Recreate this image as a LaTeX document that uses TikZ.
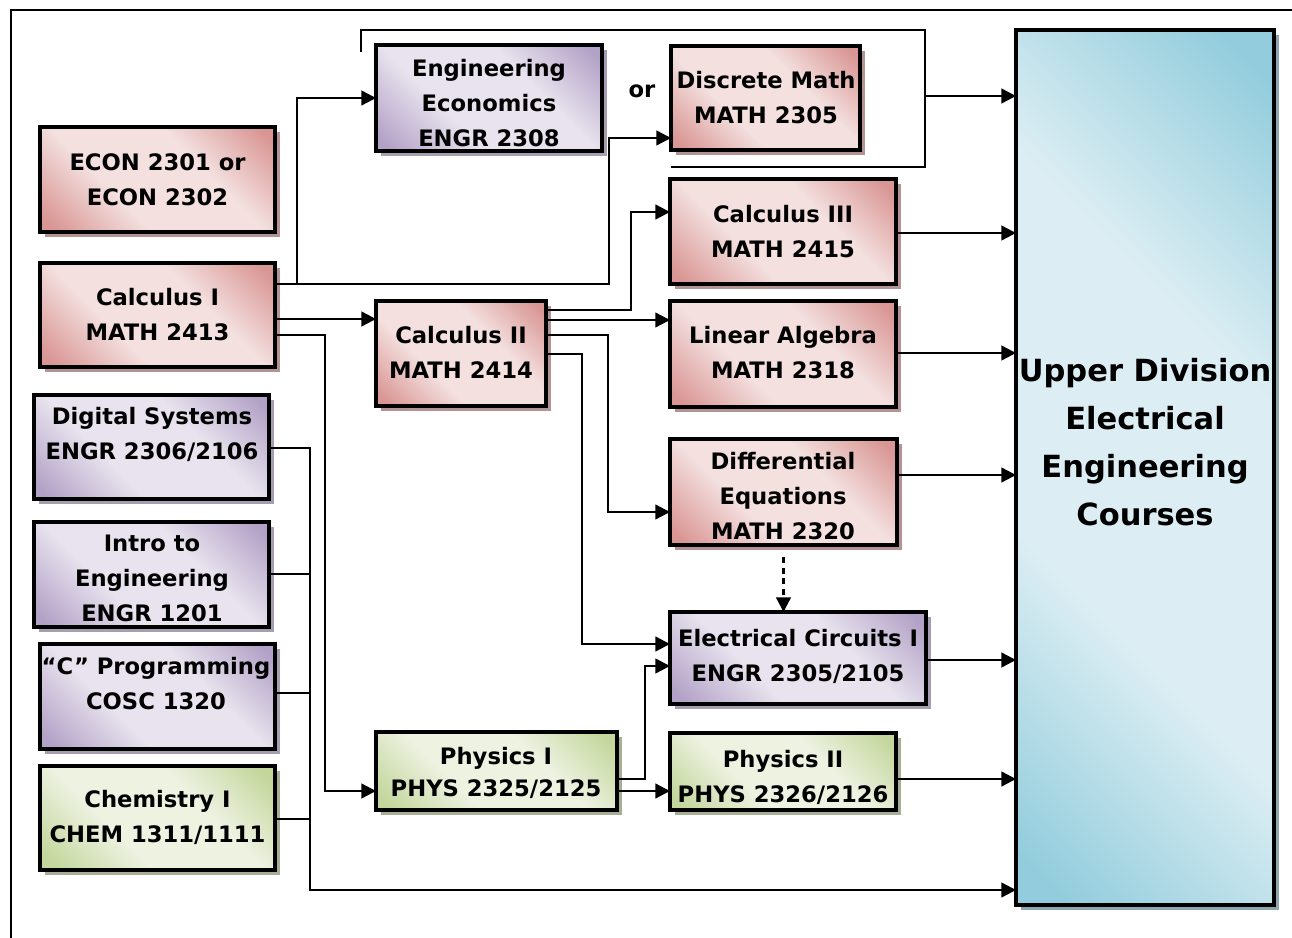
\documentclass[tikz,border=0pt]{standalone}
\usepackage{fontspec}
\setmainfont{DejaVu Sans}
\usetikzlibrary{arrows.meta,shadows,fit}
\definecolor{rl}{HTML}{F3E0DF}
\definecolor{rd}{HTML}{D99694}
\definecolor{rs}{HTML}{B39393}
\definecolor{pl}{HTML}{E8E3EE}
\definecolor{pd}{HTML}{B3A2C7}
\definecolor{ps}{HTML}{A79EB2}
\definecolor{gl}{HTML}{EDF2E1}
\definecolor{gd}{HTML}{C3D69B}
\definecolor{gs}{HTML}{A6AE96}
\definecolor{bl}{HTML}{DCEEF3}
\definecolor{bd}{HTML}{93CDDD}
\definecolor{bs}{HTML}{8FA6AE}
\pgfdeclarehorizontalshading{redsh}{100bp}{color(0bp)=(rd); color(18bp)=(rd); color(38bp)=(rl); color(62bp)=(rl); color(82bp)=(rd); color(100bp)=(rd)}
\pgfdeclarehorizontalshading{purpsh}{100bp}{color(0bp)=(pd); color(18bp)=(pd); color(38bp)=(pl); color(62bp)=(pl); color(82bp)=(pd); color(100bp)=(pd)}
\pgfdeclarehorizontalshading{greensh}{100bp}{color(0bp)=(gd); color(18bp)=(gd); color(38bp)=(gl); color(62bp)=(gl); color(82bp)=(gd); color(100bp)=(gd)}
\pgfdeclarehorizontalshading{bluesh}{100bp}{color(0bp)=(bd); color(18bp)=(bd); color(38bp)=(bl); color(62bp)=(bl); color(82bp)=(bd); color(100bp)=(bd)}
\tikzset{
  bx/.style={draw=black, line width=2.3pt, inner sep=0pt, outer sep=0pt},
  rbox/.style={bx, shade, shading=redsh, shading angle=45,
    drop shadow={shadow xshift=3.8pt, shadow yshift=-3.8pt, fill=rs, opacity=1}},
  pbox/.style={bx, shade, shading=purpsh, shading angle=45,
    drop shadow={shadow xshift=3.8pt, shadow yshift=-3.8pt, fill=ps, opacity=1}},
  gbox/.style={bx, shade, shading=greensh, shading angle=45,
    drop shadow={shadow xshift=3.8pt, shadow yshift=-3.8pt, fill=gs, opacity=1}},
  ubox/.style={bx, shade, shading=bluesh, shading angle=45,
    drop shadow={shadow xshift=3.8pt, shadow yshift=-3.8pt, fill=bs, opacity=1}},
  txt/.style={font=\fontsize{17}{26.25}\selectfont\bfseries, align=center, inner sep=0pt},
  conn/.style={line width=1.8pt},
  arr/.style={conn, -{Triangle[length=11pt,width=11pt]}},
}
\begin{document}
\begin{tikzpicture}[x=0.75pt, y=-0.75pt]
\useasboundingbox (0,0) rectangle (1292,938);
\fill[white] (0,0) rectangle (1292,938);
% frame
\draw[line width=1.8pt] (11,945) -- (11,10) -- (1295,10);

% boxes
\node[rbox, fit={(40,127) (275,232)}] (econ) {};
\node[txt] (econt) at (157.5,179.5) {ECON 2301 or\\ECON 2302};
\node[rbox, fit={(40,263) (275,367)}] (calc1) {};
\node[txt] (calc1t) at (157.5,315) {Calculus I\\MATH 2413};
\node[pbox, fit={(34,395) (269,499)}] (digsys) {};
\node[txt] (digsyst) at (152,434) {Digital Systems\\ENGR 2306/2106};
\node[pbox, fit={(34,522) (269,627)}] (intro) {};
\node[txt] (introt) at (152,578) {Intro to\\Engineering\\ENGR 1201};
\node[pbox, fit={(40,644) (275,749)}] (cprog) {};
\node[txt] (cprogt) at (156,683.5) {“C” Programming\\COSC 1320};
\node[gbox, fit={(40,766) (275,870)}] (chem) {};
\node[txt] (chemt) at (157.5,817.5) {Chemistry I\\CHEM 1311/1111};
\node[pbox, fit={(376,45) (602,151)}] (engecon) {};
\node[txt] (engecont) at (489,102.7) {Engineering\\Economics\\ENGR 2308};
\node[rbox, fit={(671,46) (860,150)}] (discrete) {};
\node[txt] (discretet) at (766,98) {Discrete Math\\MATH 2305};
\node[txt] (ortext) at (642,91) {or};
\node[rbox, fit={(670,179) (896,284)}] (calc3) {};
\node[txt] (calc3t) at (783,232) {Calculus III\\MATH 2415};
\node[rbox, fit={(376,301) (546,406)}] (calc2) {};
\node[txt] (calc2t) at (461,352.5) {Calculus II\\MATH 2414};
\node[rbox, fit={(670,301) (896,407)}] (linalg) {};
\node[txt] (linalgt) at (783,352.5) {Linear Algebra\\MATH 2318};
\node[rbox, fit={(670,439) (897,545)}] (diffeq) {};
\node[txt] (diffeqt) at (783,496) {Differential\\Equations\\MATH 2320};
\node[pbox, fit={(670,612) (926,704)}] (elec) {};
\node[txt] (elect) at (798,656) {Electrical Circuits I\\ENGR 2305/2105};
\node[gbox, fit={(376,732) (617,810)}] (phys1) {};
\node[txt, font=\fontsize{17}{24}\selectfont\bfseries] (phys1t) at (496,773) {Physics I\\PHYS 2325/2125};
\node[gbox, fit={(670,733) (896,810)}] (phys2) {};
\node[txt] (phys2t) at (783,777.5) {Physics II\\PHYS 2326/2126};
\node[ubox, fit={(1016,30) (1274,905)}] (upper) {};
\node[txt, font=\fontsize{22.9}{36}\selectfont\bfseries] (uppert) at (1145,442.5) {Upper Division\\Electrical\\Engineering\\Courses};

% connectors
\draw[arr] (calc1.east |- 0,284) -- (297,284) |- (engecon.west |- 0,98);
\draw[arr] (calc1.east |- 0,284) -- (609,284) |- (discrete.west |- 0,138);
\draw[arr] (calc1.east |- 0,319) -- (calc2.west |- 0,319);
\draw[arr] (calc1.east |- 0,335) -- (325,335) |- (phys1.west |- 0,791);
\draw[arr] (calc2.east |- 0,310) -- (631,310) |- (calc3.west |- 0,212);
\draw[arr] (calc2.east |- 0,320) -- (linalg.west |- 0,320);
\draw[arr] (calc2.east |- 0,335) -- (608,335) |- (diffeq.west |- 0,512);
\draw[arr] (calc2.east |- 0,354) -- (582,354) |- (elec.west |- 0,644);
\draw[arr, dash pattern=on 4.5pt off 3.5pt, shorten <=9pt] (diffeq.south) -- (diffeq.south |- elec.north);
\draw[arr] (phys1.east |- 0,779) -- (645,779) |- (elec.west |- 0,666);
\draw[arr] (phys1.east |- 0,791) -- (phys2.west |- 0,791);
\draw[arr] (digsys.east |- 0,448) -- (310,448) |- (upper.west |- 0,890);
\draw[conn] (intro.east |- 0,574) -- (310,574);
\draw[conn] (cprog.east |- 0,693) -- (310,693);
\draw[conn] (chem.east |- 0,819) -- (310,819);
\draw[conn] (engecon.west |- 0,52) ++(-15,0) |- (925,30) |- (discrete.west |- 0,167);
\draw[arr] (925,96) -- (upper.west |- 0,96);
\draw[arr] (calc3.east |- 0,233) -- (upper.west |- 0,233);
\draw[arr] (linalg.east |- 0,353) -- (upper.west |- 0,353);
\draw[arr] (diffeq.east |- 0,475) -- (upper.west |- 0,475);
\draw[arr] (elec.east |- 0,660) -- (upper.west |- 0,660);
\draw[arr] (phys2.east |- 0,779) -- (upper.west |- 0,779);
\end{tikzpicture}
\end{document}
